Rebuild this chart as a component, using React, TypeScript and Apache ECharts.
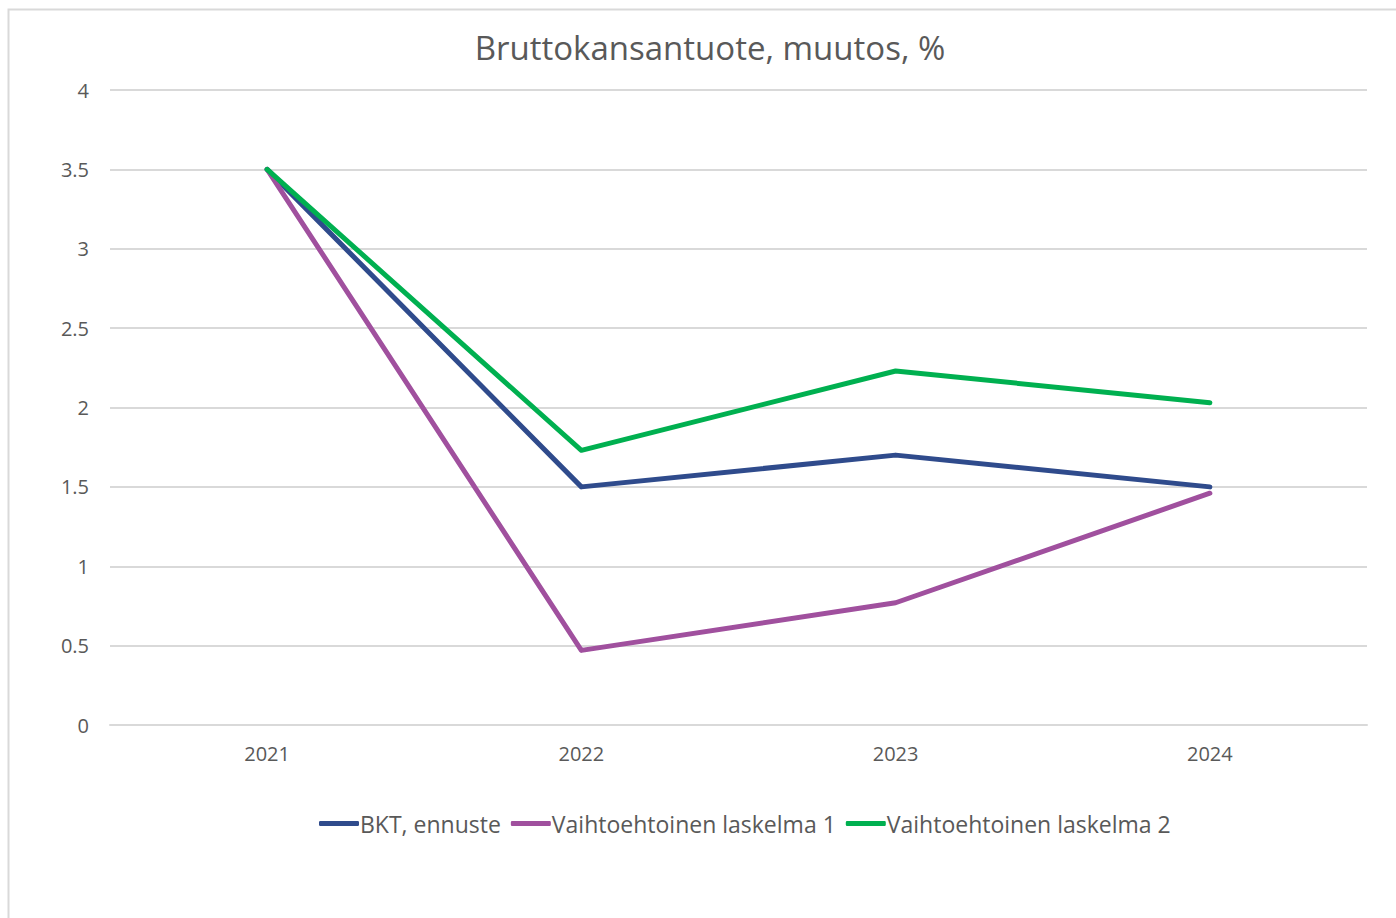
import React, { useEffect, useRef } from "react";
import * as echarts from "echarts";

const categories = ["2021", "2022", "2023", "2024"];
const bkt = [3.5, 1.5, 1.7, 1.5];
const alt1 = [3.5, 0.47, 0.77, 1.46];
const alt2 = [3.5, 1.73, 2.23, 2.03];
const seriesNames = ["BKT, ennuste", "Vaihtoehtoinen laskelma 1", "Vaihtoehtoinen laskelma 2"];
const colors = ["#2F4B8C", "#A0509E", "#00B050"];

export default function App() {
  const ref = useRef<HTMLDivElement>(null);
  useEffect(() => {
    const chart = echarts.init(ref.current!, null, { renderer: "svg" });
    const font = "'Open Sans', sans-serif";
    const data = [bkt, alt1, alt2];
    chart.setOption({
      animation: false,
      backgroundColor: "#ffffff",
      title: {
        text: "Bruttokansantuote, muutos, %",
        left: 705,
        textAlign: "center",
        top: 26,
        textStyle: { fontFamily: font, fontSize: 33, fontWeight: "normal", color: "#595959" },
      },
      graphic: [
        {
          type: "rect",
          shape: { x: 8.5, y: 9.5, width: 1400, height: 920 },
          style: { fill: "none", stroke: "#d9d9d9", lineWidth: 2 },
          silent: true,
        },
      ],
      legend: {
        top: 807,
        left: 314,
        icon: "roundRect",
        itemWidth: 40,
        itemHeight: 5,
        itemGap: 10,
        textStyle: { fontFamily: font, fontSize: 23, color: "#595959", padding: [0, 0, 0, -4] },
        data: seriesNames,
      },
      grid: { left: 110, right: 29, top: 90, bottom: 193 },
      xAxis: {
        type: "category",
        data: categories,
        boundaryGap: true,
        axisLine: { lineStyle: { color: "#d9d9d9", width: 2 } },
        axisTick: { show: false },
        axisLabel: { fontFamily: font, fontSize: 20, color: "#595959", margin: 18 },
      },
      yAxis: {
        type: "value",
        min: 0,
        max: 4,
        interval: 0.5,
        axisLine: { show: false },
        axisTick: { show: false },
        splitLine: { lineStyle: { color: "#d9d9d9", width: 2 } },
        axisLabel: { fontFamily: font, fontSize: 20, color: "#595959", margin: 21 },
      },
      series: seriesNames.map((name, i) => ({
        name,
        type: "line",
        data: data[i],
        symbol: "none",
        color: colors[i],
        lineStyle: { width: 5, color: colors[i], cap: "round", join: "round" },
      })),
    });
    return () => chart.dispose();
  }, []);
  return (
    <div
      ref={ref}
      style={{ position: "fixed", left: 0, top: 0, width: 1396, height: 918 }}
    />
  );
}
